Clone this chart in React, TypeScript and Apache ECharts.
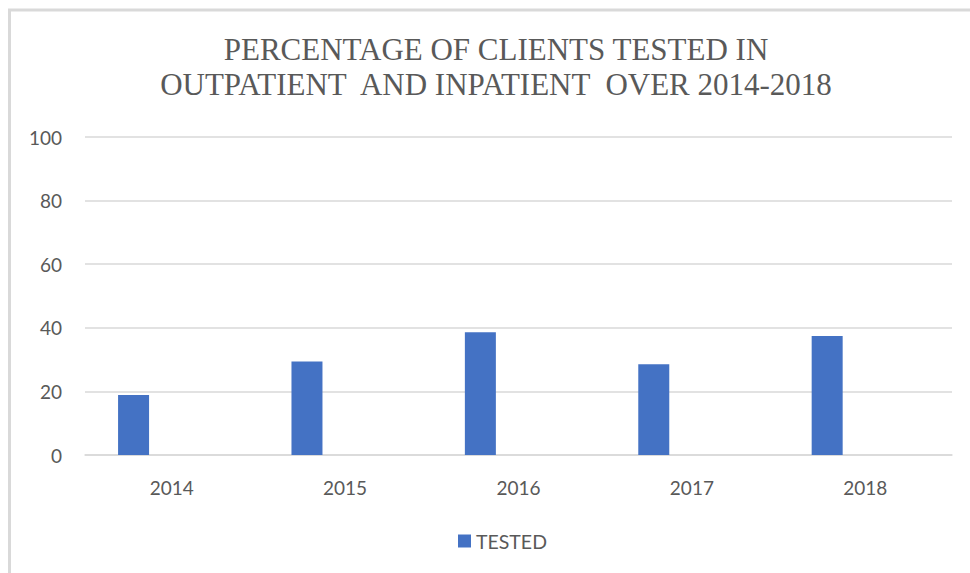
import React, { useEffect, useRef } from "react";
import * as echarts from "echarts";

const titleLines = ["PERCENTAGE OF CLIENTS TESTED IN", "OUTPATIENT  AND INPATIENT  OVER 2014-2018"];
const categories = ["2014", "2015", "2016", "2017", "2018"];
const seriesName = "TESTED";
const testedValues = [18.9, 29.4, 38.6, 28.5, 37.4];
const yTicks = { min: 0, max: 100, interval: 20 };

export default function App() {
  const ref = useRef<HTMLDivElement>(null);
  useEffect(() => {
    if (!ref.current) return;
    const chart = echarts.init(ref.current, null, { renderer: "svg" });
    const sans = "Lato, 'Noto Sans', sans-serif";
    const gray = "#595959";
    chart.setOption({
      animation: false,
      backgroundColor: "#ffffff",
      graphic: [
        { type: "line", shape: { x1: 9.5, y1: 10, x2: 9.5, y2: 573 }, style: { stroke: "#d9d9d9", lineWidth: 3 } },
        { type: "line", shape: { x1: 8, y1: 10, x2: 970, y2: 10 }, style: { stroke: "#d9d9d9", lineWidth: 3 } },
        ...titleLines.map((t, i) => ({
          type: "text",
          x: 496,
          y: 49 + i * 35,
          style: {
            text: t,
            fill: gray,
            font: "31px 'Liberation Serif', 'Times New Roman', serif",
            textAlign: "center",
            textVerticalAlign: "middle",
            verticalAlign: "middle",
          },
        })),
      ],
      legend: {
        data: [seriesName],
        left: 453,
        top: 526,
        itemWidth: 13,
        itemHeight: 13,
        itemGap: 20,
        icon: "rect",
        textStyle: { color: gray, fontSize: 19.5, fontFamily: sans },
      },
      grid: { left: 85, right: 18, top: 137, bottom: 118, containLabel: false },
      xAxis: {
        type: "category",
        data: categories,
        axisLine: { show: true, lineStyle: { color: "#d9d9d9", width: 1.5 } },
        axisTick: { show: false },
        axisLabel: { color: gray, fontSize: 19, fontFamily: sans, margin: 23 },
      },
      yAxis: {
        type: "value",
        min: yTicks.min,
        max: yTicks.max,
        interval: yTicks.interval,
        axisLine: { show: false },
        axisTick: { show: false },
        axisLabel: { color: gray, fontSize: 19, fontFamily: sans, margin: 23 },
        splitLine: { lineStyle: { color: "#d9d9d9", width: 1.5 } },
      },
      series: [
        {
          name: seriesName,
          type: "bar",
          data: testedValues,
          barWidth: 31,
          barGap: "146%",
          itemStyle: { color: "#4472c4" },
        },
        {
          name: "_empty",
          type: "bar",
          data: categories.map(() => null),
          barWidth: 31,
          itemStyle: { color: "#ed7d31" },
        },
      ],
    });
    return () => chart.dispose();
  }, []);
  return (
    <div
      ref={ref}
      style={{ position: "fixed", left: 0, top: 0, width: 970, height: 573, background: "#fff" }}
    />
  );
}
